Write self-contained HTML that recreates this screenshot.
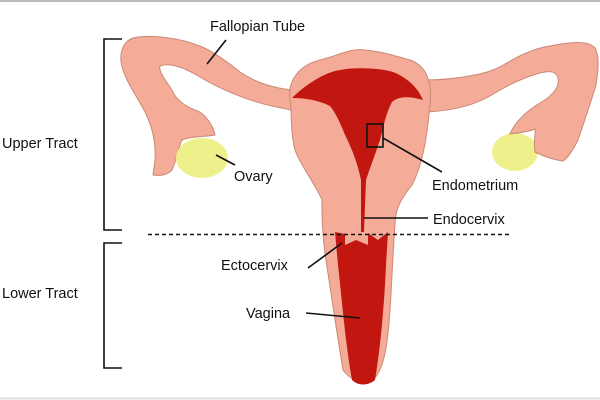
<!DOCTYPE html>
<html><head><style>body{margin:0;background:#fff}svg{display:block}text{font-family:"Liberation Sans",sans-serif;font-size:14.5px;fill:#111}</style></head><body>
<svg width="600" height="400" viewBox="0 0 600 400">
<rect x="0" y="0" width="600" height="400" fill="#fff"/>
<line x1="0" y1="1" x2="600" y2="1" stroke="#bbb" stroke-width="2"/>
<line x1="0" y1="398.5" x2="600" y2="398.5" stroke="#ddd" stroke-width="2"/>
<ellipse cx="515" cy="152" rx="23" ry="19" fill="#eef08c"/>
<g fill="#f4ab98" stroke="#c98a73" stroke-width="1">
<path d="M292,90 C275,88 258,84 240,72 C225,60 210,50 200,46 C180,38 150,34 133,38 C122,42 118,55 123,70 C128,85 138,98 145,112 C153,128 156,145 155,160 L153,175 C160,176 168,175 172,170 C177,160 178,148 182,140 C192,136 205,137 215,135 C213,125 205,113 195,110 C185,106 176,100 172,90 C165,80 158,70 160,66 C170,62 185,68 200,77 C225,92 255,104 292,110 Z"/>
<path d="M425,80 C445,80 460,78 475,75 C490,72 498,68 505,64 C520,55 535,48 550,46 C570,42 588,40 595,48 C600,58 598,70 596,85 C590,105 583,125 578,140 C573,150 568,158 563,161 C555,160 545,157 535,152 C533,142 536,133 535,129 C528,132 518,133 510,134 C515,122 525,112 540,103 C552,96 560,88 558,78 C556,70 548,71 540,73 C525,77 510,84 495,93 C478,104 455,111 425,112 Z"/>
<path d="M290,100 C287,80 300,65 320,60 C340,55 350,48 365,50 C385,52 395,56 410,60 C428,66 432,85 430,105 C428,125 425,160 412,185 C400,200 395,210 395,225 C393,250 392,280 390,310 C388,340 385,370 372,381 C362,384 350,380 343,370 C338,340 332,300 326,260 C322,235 322,215 322,200 C316,185 300,165 295,150 C290,130 292,110 290,100 Z"/>
</g>
<ellipse cx="202" cy="158" rx="26" ry="20" fill="#eef08c"/>
<g fill="#c11710">
<path d="M292,98 C305,85 325,72 340,70 C355,67 380,68 393,72 C408,78 418,88 423,100 C410,96 398,96 392,102 C385,115 383,130 380,140 C375,155 370,168 366,180 L364,232 L361,232 L361,180 C357,160 350,145 345,135 C340,122 335,112 330,106 C318,100 305,98 292,98 Z"/>
<path d="M335,232 L345,234 L345,245 L356,240 L368,245 L368,233 L378,240 L388,232 L386,265 C384,310 380,350 375,380 C368,386 358,386 352,380 C345,340 342,300 338,265 Z"/>
</g>
<line x1="148" y1="234.5" x2="512" y2="234.5" stroke="#111" stroke-width="1.5" stroke-dasharray="4,3"/>
<g stroke="#111" stroke-width="1.6" fill="none">
<path d="M122,39 L104,39 L104,230 L122,230"/>
<path d="M122,243 L104,243 L104,368 L122,368"/>
<line x1="226" y1="40" x2="207" y2="64"/>
<line x1="216" y1="155" x2="235" y2="165"/>
<rect x="367" y="124" width="16" height="23"/>
<line x1="383" y1="138" x2="442" y2="172"/>
<line x1="364" y1="218" x2="428" y2="218"/>
<line x1="342" y1="243" x2="308" y2="268"/>
<line x1="306" y1="313" x2="360" y2="318"/>
</g>
<text x="210" y="31">Fallopian Tube</text>
<text x="2" y="148">Upper Tract</text>
<text x="234" y="181">Ovary</text>
<text x="432" y="190">Endometrium</text>
<text x="433" y="224">Endocervix</text>
<text x="221" y="270">Ectocervix</text>
<text x="2" y="298">Lower Tract</text>
<text x="246" y="318">Vagina</text>
</svg>
</body></html>
